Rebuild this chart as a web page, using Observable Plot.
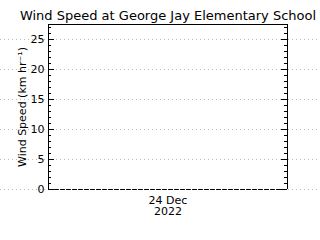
<!DOCTYPE html>
<html>
<head>
<meta charset="utf-8">
<script src="https://cdn.jsdelivr.net/npm/d3@7"></script>
<script src="https://cdn.jsdelivr.net/npm/@observablehq/plot@0.6"></script>
<style>
  html, body { margin: 0; padding: 0; background: #fff; }
  svg { display: block; }
</style>
</head>
<body>
<div id="chart"></div>
<script>
const title = "Wind Speed at George Jay Elementary School";
const yLabel = "Wind Speed (km hr\u207B\u00B9)";
const times = ["2022-12-24T00:00", "2022-12-24T06:00", "2022-12-24T12:00", "2022-12-24T18:00", "2022-12-25T00:00"];
const speeds = [0, 0, 0, 0, 0];
const yMajor = [0, 5, 10, 15, 20, 25];
const yMinor = [0,1,2,3,4,5,6,7,8,9,10,11,12,13,14,15,16,17,18,19,20,21,22,23,24,25,26,27];
const xTickTime = "2022-12-24T12:00";
const xTickLabel = "24 Dec\n2022";
const xDomain = ["2022-12-24T00:00", "2022-12-25T00:00"];
const yDomain = [0, 27.5];

const data = times.map((t, i) => ({t: new Date(t), v: speeds[i]}));
const font = "DejaVu Sans";
const W = 320, H = 240, mL = 48, mR = 33, mT = 24, mB = 51;
const fw = W - mL - mR;

const plot = Plot.plot({
  width: W, height: H,
  marginLeft: mL, marginRight: mR, marginTop: mT, marginBottom: mB,
  style: {fontFamily: font, fontSize: "11px", color: "#000", background: "#fff"},
  x: {type: "time", domain: xDomain.map(d => new Date(d))},
  y: {domain: yDomain},
  marks: [
    Plot.ruleY(yMajor, {stroke: "#bbb", strokeDasharray: "1,3", insetLeft: -mL, insetRight: -mR}),
    Plot.ruleX(xDomain.map(d => new Date(d)), {stroke: "#000", strokeWidth: 1}),
    Plot.ruleY([yDomain[1]], {stroke: "#000", strokeWidth: 1}),
    Plot.ruleY(yMinor, {stroke: "#000", insetRight: fw - 3}),
    Plot.ruleY(yMajor, {stroke: "#000", insetRight: fw - 6}),
    Plot.ruleY(yMinor, {stroke: "#000", insetLeft: fw - 3}),
    Plot.ruleY(yMajor, {stroke: "#000", insetLeft: fw - 6}),
    Plot.line(data, {x: "t", y: "v", stroke: "#000", strokeWidth: 1, strokeDasharray: "4,2"}),
    Plot.axisY({ticks: yMajor, tickSize: 0, tickPadding: 4, label: null, fontSize: 11}),
    Plot.axisX({ticks: [new Date(xTickTime)], tickFormat: () => xTickLabel, tickSize: 0, tickPadding: 6, label: null, lineHeight: 1.05, fontSize: 11}),
    Plot.text([yLabel], {frameAnchor: "left", dx: -26, rotate: -90, textAnchor: "middle", fontSize: 11, fill: "#000"}),
    Plot.text([title], {frameAnchor: "top", dy: -14, fontSize: 13, fill: "#000"})
  ]
});
document.getElementById("chart").appendChild(plot);
</script>
</body>
</html>
